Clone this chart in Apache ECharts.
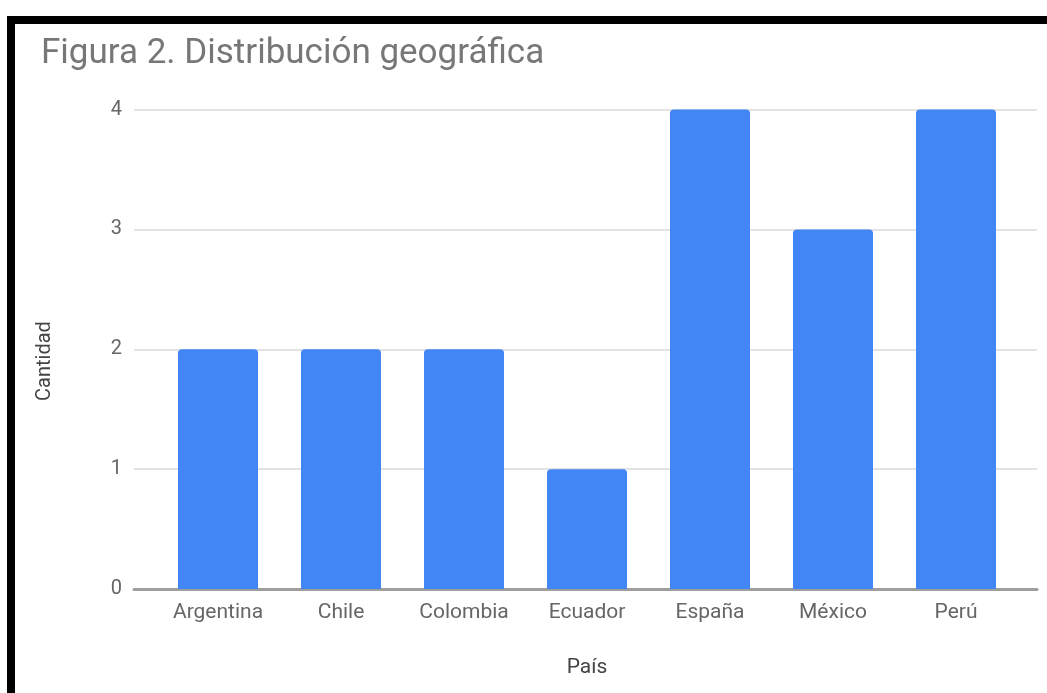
<!DOCTYPE html>
<html>
<head>
<meta charset="utf-8">
<style>
html,body{margin:0;padding:0;background:#fff;}
#chart{width:1047px;height:693px;}
</style>
<script src="https://cdn.jsdelivr.net/npm/echarts@6/dist/echarts.min.js"></script>
</head>
<body>
<div id="chart"></div>
<script>
const categories = ['Argentina', 'Chile', 'Colombia', 'Ecuador', 'España', 'México', 'Perú'];
const values = [2, 2, 2, 1, 4, 3, 4];
const yTicks = [0, 1, 2, 3, 4];
const titleText = 'Figura 2. Distribución geográfica';
const xName = 'País';
const yName = 'Cantidad';

const chart = echarts.init(document.getElementById('chart'));
const FONT = 'Roboto';
const TOP = 109.5, BOTTOM = 693 - 589;
chart.setOption({
  animation: false,
  backgroundColor: '#fff',
  title: {
    text: titleText, left: 36, top: 32,
    textStyle: {fontFamily: FONT, fontSize: 35, fontWeight: 'normal', color: '#777'}
  },
  graphic: [
    {type: 'rect', shape: {x: 7, y: 16, width: 1040, height: 8}, style: {fill: '#000'}, z: 100},
    {type: 'rect', shape: {x: 7, y: 16, width: 8, height: 677}, style: {fill: '#000'}, z: 100},
    {type: 'text', x: 45, y: 361, rotation: Math.PI / 2,
      style: {text: yName, font: '20px Roboto', fill: '#444', align: 'center', verticalAlign: 'middle'}}
  ],
  grid: [
    {left: 134, right: 10, top: TOP, bottom: BOTTOM},
    {left: 156.5, width: 861, top: TOP, bottom: BOTTOM}
  ],
  xAxis: [
    {gridIndex: 0, type: 'category', data: categories, show: true,
      axisLine: {show: true, lineStyle: {color: '#9e9e9e', width: 3}},
      axisTick: {show: false}, axisLabel: {show: false}, splitLine: {show: false}},
    {gridIndex: 1, type: 'category', data: categories,
      axisLine: {show: false}, axisTick: {show: false},
      axisLabel: {fontFamily: FONT, fontSize: 21, color: '#666', margin: 13},
      name: xName, nameLocation: 'middle', nameGap: 68,
      nameTextStyle: {fontFamily: FONT, fontSize: 21, color: '#444'}}
  ],
  yAxis: [
    {gridIndex: 0, type: 'value', min: yTicks[0], max: yTicks[yTicks.length - 1], interval: 1,
      axisLine: {show: false}, axisTick: {show: false},
      axisLabel: {fontFamily: FONT, fontSize: 20, color: '#666', margin: 12},
      splitLine: {lineStyle: {color: '#e3e3e3', width: 2}}},
    {gridIndex: 1, type: 'value', min: yTicks[0], max: yTicks[yTicks.length - 1], interval: 1, show: false}
  ],
  series: [{
    type: 'bar', xAxisIndex: 1, yAxisIndex: 1, data: values,
    barWidth: 80,
    itemStyle: {color: '#4285f4', borderRadius: [4, 4, 0, 0]},
    z: 3
  }]
});
</script>
</body>
</html>
